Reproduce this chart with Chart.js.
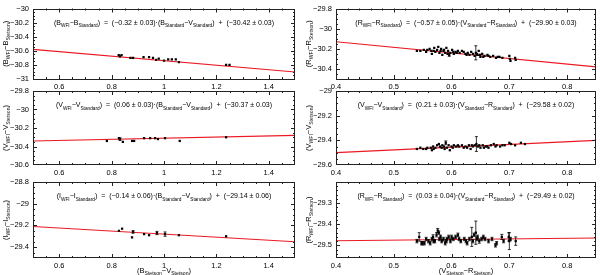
<!DOCTYPE html>
<html>
<head>
<meta charset="utf-8">
<script src="https://cdn.jsdelivr.net/npm/chart.js@4"></script>
<style>
  html, body { margin: 0; padding: 0; background: #fff; }
  #wrap { position: relative; width: 600px; height: 275px; }
  #wrap canvas { position: absolute; left: 0; top: 0; }
</style>
</head>
<body>
<div id="wrap"></div>
<script>
// --- left column : x = (B-V) Stetson ---
const leftXTicks = [0.6, 0.8, 1, 1.2, 1.4];
const fitXLeft = [0.5, 1.5];

const bX   = [0.827, 0.832, 0.838, 0.872, 0.882, 0.922, 0.943, 0.958, 0.97, 0.98, 1.0, 1.016, 1.03, 1.045, 1.057, 1.237, 1.25];
const bY   = [-30.66, -30.68, -30.66, -30.70, -30.70, -30.69, -30.69, -30.70, -30.73, -30.71, -30.74, -30.72, -30.72, -30.72, -30.76, -30.80, -30.80];
const bErr = [0.01, 0.01, 0.01, 0.008, 0.008, 0.008, 0.008, 0.008, 0.008, 0.008, 0.008, 0.008, 0.008, 0.008, 0.01, 0.008, 0.008];
const bTicks = [-31, -30.8, -30.6, -30.4, -30.2, -30];
const bFitY = [-30.58, -30.90];

const vLX   = [0.782, 0.828, 0.832, 0.843, 0.878, 0.886, 0.924, 0.947, 0.966, 0.977, 1.004, 1.06, 1.237];
const vLY   = [-30.34, -30.31, -30.32, -30.35, -30.34, -30.34, -30.31, -30.31, -30.31, -30.32, -30.31, -30.34, -30.30];
const vLErr = [0.01, 0.01, 0.015, 0.01, 0.008, 0.008, 0.008, 0.008, 0.008, 0.008, 0.01, 0.008, 0.008];
const vLTicks = [-30.6, -30.4, -30.2, -30, -29.8];
const vLFitY = [-30.34, -30.28];

const iX   = [0.828, 0.84, 0.878, 0.882, 0.924, 0.943, 0.973, 1.004, 1.057, 1.237];
const iY   = [-29.25, -29.23, -29.31, -29.26, -29.28, -29.29, -29.27, -29.28, -29.29, -29.30];
const iErr = [0.01, 0.01, 0.01, 0.012, 0.008, 0.008, 0.015, 0.02, 0.01, 0.01];
const iTicks = [-29.4, -29.2, -29, -28.8];
const iFitY = [-29.21, -29.35];

// --- right column : x = (V-R) Stetson ---
const rightXTicks = [0.4, 0.5, 0.6, 0.7, 0.8];
const fitXRight = [0.4, 0.85];

const rTX   = [0.540, 0.546, 0.552, 0.556, 0.562, 0.565, 0.566, 0.570, 0.572, 0.575, 0.577, 0.579, 0.582, 0.584, 0.586, 0.589, 0.591, 0.594, 0.596, 0.598, 0.601, 0.604, 0.607, 0.611, 0.614, 0.618, 0.624, 0.628, 0.631, 0.634, 0.637, 0.640, 0.642, 0.645, 0.647, 0.650, 0.653, 0.657, 0.662, 0.667, 0.672, 0.677, 0.683, 0.688, 0.700, 0.701, 0.702, 0.710, 0.711,
               0.558, 0.569, 0.581, 0.587, 0.593, 0.603, 0.609, 0.621, 0.626, 0.644, 0.649, 0.655, 0.664, 0.680];
const rTY   = [-30.22, -30.22, -30.21, -30.23, -30.20, -30.22, -30.25, -30.19, -30.23, -30.21, -30.18, -30.24, -30.20, -30.26, -30.22, -30.24, -30.19, -30.22, -30.26, -30.24, -30.21, -30.25, -30.23, -30.22, -30.24, -30.22, -30.25, -30.24, -30.26, -30.23, -30.25, -30.27, -30.24, -30.26, -30.22, -30.28, -30.25, -30.27, -30.26, -30.28, -30.27, -30.29, -30.28, -30.29, -30.27, -30.30, -30.32, -30.29, -30.31,
               -30.21, -30.22, -30.22, -30.21, -30.25, -30.23, -30.24, -30.23, -30.26, -30.25, -30.26, -30.28, -30.27, -30.28];
const rTErr = [0.008, 0.008, 0.008, 0.008, 0.008, 0.008, 0.01, 0.008, 0.008, 0.008, 0.01, 0.008, 0.008, 0.01, 0.008, 0.008, 0.008, 0.008, 0.015, 0.008, 0.008, 0.008, 0.008, 0.008, 0.008, 0.008, 0.008, 0.008, 0.008, 0.008, 0.008, 0.008, 0.07, 0.008, 0.008, 0.008, 0.008, 0.008, 0.008, 0.008, 0.008, 0.008, 0.008, 0.008, 0.01, 0.008, 0.008, 0.01, 0.008,
               0.008, 0.008, 0.008, 0.008, 0.008, 0.008, 0.008, 0.008, 0.008, 0.008, 0.008, 0.008, 0.008, 0.008];
const rTTicks = [-30.4, -30.2, -30, -29.8];
const rTFitY = [-30.13, -30.38];

const vRX   = [0.540, 0.546, 0.551, 0.556, 0.564, 0.566, 0.568, 0.572, 0.575, 0.578, 0.580, 0.584, 0.588, 0.590, 0.592, 0.595, 0.597, 0.600, 0.604, 0.608, 0.613, 0.618, 0.624, 0.627, 0.630, 0.633, 0.637, 0.640, 0.643, 0.646, 0.650, 0.654, 0.659, 0.664, 0.668, 0.673, 0.678, 0.684, 0.688, 0.700, 0.703, 0.710, 0.720, 0.727,
               0.558, 0.569, 0.583, 0.587, 0.602, 0.611, 0.621, 0.635, 0.648, 0.656, 0.662, 0.676, 0.692];
const vRY   = [-29.47, -29.46, -29.47, -29.47, -29.46, -29.48, -29.45, -29.46, -29.44, -29.43, -29.45, -29.44, -29.47, -29.42, -29.46, -29.44, -29.48, -29.45, -29.44, -29.45, -29.45, -29.44, -29.45, -29.46, -29.44, -29.47, -29.45, -29.44, -29.43, -29.45, -29.46, -29.44, -29.45, -29.46, -29.44, -29.43, -29.44, -29.45, -29.44, -29.42, -29.43, -29.44, -29.42, -29.43,
               -29.46, -29.47, -29.46, -29.45, -29.46, -29.44, -29.46, -29.44, -29.44, -29.46, -29.45, -29.45, -29.44];
const vRErr = [0.008, 0.008, 0.008, 0.008, 0.008, 0.008, 0.008, 0.008, 0.008, 0.01, 0.008, 0.008, 0.008, 0.015, 0.008, 0.008, 0.008, 0.008, 0.008, 0.008, 0.008, 0.008, 0.008, 0.008, 0.008, 0.008, 0.008, 0.008, 0.06, 0.008, 0.008, 0.008, 0.008, 0.008, 0.008, 0.008, 0.008, 0.008, 0.008, 0.01, 0.008, 0.008, 0.008, 0.008,
               0.008, 0.008, 0.008, 0.008, 0.008, 0.008, 0.008, 0.008, 0.008, 0.008, 0.008, 0.008, 0.008];
const vRTicks = [-29.6, -29.4, -29.2, -29];
const vRFitY = [-29.50, -29.40];

const rBX   = [0.540, 0.544, 0.548, 0.553, 0.556, 0.563, 0.566, 0.568, 0.571, 0.574, 0.576, 0.578, 0.581, 0.583, 0.586, 0.589, 0.592, 0.595, 0.598, 0.603, 0.607, 0.611, 0.616, 0.622, 0.627, 0.631, 0.635, 0.639, 0.642, 0.645, 0.648, 0.652, 0.658, 0.664, 0.670, 0.678, 0.687, 0.699, 0.700, 0.702, 0.711,
               0.550, 0.560, 0.569, 0.579, 0.591, 0.600, 0.613, 0.625, 0.637, 0.644, 0.655, 0.676, 0.690];
const rBY   = [-29.48, -29.46, -29.49, -29.49, -29.47, -29.49, -29.47, -29.46, -29.48, -29.45, -29.43, -29.44, -29.46, -29.48, -29.47, -29.49, -29.47, -29.46, -29.48, -29.47, -29.46, -29.45, -29.48, -29.47, -29.49, -29.47, -29.46, -29.45, -29.44, -29.46, -29.48, -29.47, -29.47, -29.48, -29.47, -29.49, -29.46, -29.46, -29.48, -29.47, -29.48,
               -29.49, -29.48, -29.48, -29.47, -29.48, -29.46, -29.47, -29.48, -29.48, -29.47, -29.46, -29.50, -29.48];
const rBErr = [0.008, 0.02, 0.008, 0.008, 0.008, 0.008, 0.008, 0.01, 0.008, 0.01, 0.01, 0.008, 0.008, 0.008, 0.008, 0.008, 0.008, 0.008, 0.008, 0.008, 0.008, 0.008, 0.008, 0.008, 0.008, 0.008, 0.045, 0.008, 0.055, 0.008, 0.01, 0.008, 0.008, 0.008, 0.008, 0.008, 0.012, 0.02, 0.04, 0.008, 0.02,
               0.008, 0.008, 0.008, 0.008, 0.008, 0.008, 0.008, 0.008, 0.008, 0.008, 0.008, 0.008, 0.008];
const rBTicks = [-29.5, -29.4, -29.3];
const rBFitY = [-29.478, -29.465];

// panel boxes on the 600x275 page
const panels = [
  { area: [33, 5, 295, 79],    x: bX,  y: bY,  err: bErr,  xr: [0.5, 1.5],  yr: [-31, -30],      xt: leftXTicks,  yt: bTicks,  xMaj: 0.2, xMin: 0.05, yMaj: 0.2, yMin: 0.05, fx: fitXLeft,  fy: bFitY,
    eq: '(B_{WFI}\u2212B_{Standard})  =  (\u22120.32 \u00b1 0.03)\u00b7(B_{Standard}\u2212V_{Standard})  +  (\u221230.42 \u00b1 0.03)', yl: '(B_{WFI}\u2212B_{Stetson})' },
  { area: [336, 5, 598, 79],   x: rTX, y: rTY, err: rTErr, xr: [0.4, 0.85], yr: [-30.5, -29.8],  xt: rightXTicks, yt: rTTicks, xMaj: 0.1, xMin: 0.02, yMaj: 0.2, yMin: 0.05, fx: fitXRight, fy: rTFitY,
    eq: '(R_{WFI}\u2212R_{Standard})  =  (\u22120.57 \u00b1 0.05)\u00b7(V_{Standard}\u2212R_{Standard})  +  (\u221229.90 \u00b1 0.03)', yl: '(R_{WFI}\u2212R_{Stetson})' },
  { area: [33, 91, 295, 165],  x: vLX, y: vLY, err: vLErr, xr: [0.5, 1.5],  yr: [-30.6, -29.8],  xt: leftXTicks,  yt: vLTicks, xMaj: 0.2, xMin: 0.05, yMaj: 0.2, yMin: 0.05, fx: fitXLeft,  fy: vLFitY,
    eq: '(V_{WFI}\u2212V_{Standard})  =  (0.06 \u00b1 0.03)\u00b7(B_{Standard}\u2212V_{Standard})  +  (\u221230.37 \u00b1 0.03)', yl: '(V_{WFI}\u2212V_{Stetson})' },
  { area: [336, 91, 598, 165], x: vRX, y: vRY, err: vRErr, xr: [0.4, 0.85], yr: [-29.6, -29],    xt: rightXTicks, yt: vRTicks, xMaj: 0.1, xMin: 0.02, yMaj: 0.2, yMin: 0.05, fx: fitXRight, fy: vRFitY,
    eq: '(V_{WFI}\u2212V_{Standard})  =  (0.21 \u00b1 0.03)\u00b7(V_{Standard}\u2212R_{Standard})  +  (\u221229.58 \u00b1 0.02)', yl: '(V_{WFI}\u2212V_{Stetson})' },
  { area: [33, 182, 295, 258], x: iX,  y: iY,  err: iErr,  xr: [0.5, 1.5],  yr: [-29.5, -28.8],  xt: leftXTicks,  yt: iTicks,  xMaj: 0.2, xMin: 0.05, yMaj: 0.2, yMin: 0.05, fx: fitXLeft,  fy: iFitY,
    eq: '(I_{WFI}\u2212I_{Standard})  =  (\u22120.14 \u00b1 0.06)\u00b7(B_{Standard}\u2212V_{Standard})  +  (\u221229.14 \u00b1 0.06)', yl: '(I_{WFI}\u2212I_{Stetson})', xl: '(B_{Stetson}\u2212V_{Stetson})' },
  { area: [336, 182, 598, 258], x: rBX, y: rBY, err: rBErr, xr: [0.4, 0.85], yr: [-29.56, -29.2], xt: rightXTicks, yt: rBTicks, xMaj: 0.1, xMin: 0.02, yMaj: 0.1, yMin: 0.02, fx: fitXRight, fy: rBFitY,
    eq: '(R_{WFI}\u2212R_{Standard})  =  (0.03 \u00b1 0.04)\u00b7(V_{Standard}\u2212R_{Standard})  +  (\u221229.49 \u00b1 0.02)', yl: '(R_{WFI}\u2212R_{Stetson})', xl: '(V_{Stetson}\u2212R_{Stetson})' }
];

const FONT = '"Liberation Sans", Arial, sans-serif';
const YW = 33, XH = 12;

// text with _{sub} parts, centred on (x, y)
function drawRich(ctx, s, x, y, size, rot) {
  const parts = [];
  const re = /_\{([^}]*)\}/g;
  let last = 0, m;
  while ((m = re.exec(s))) {
    if (m.index > last) parts.push({ t: s.slice(last, m.index), sub: false });
    parts.push({ t: m[1], sub: true });
    last = re.lastIndex;
  }
  if (last < s.length) parts.push({ t: s.slice(last), sub: false });
  const fN = size + 'px ' + FONT, fS = (size * 0.68) + 'px ' + FONT;
  let w = 0;
  parts.forEach(p => { ctx.font = p.sub ? fS : fN; p.w = ctx.measureText(p.t).width; w += p.w; });
  ctx.save();
  ctx.translate(x, y);
  if (rot) ctx.rotate(rot);
  ctx.fillStyle = '#000';
  ctx.textBaseline = 'alphabetic';
  ctx.textAlign = 'left';
  let cx = -w / 2;
  parts.forEach(p => {
    ctx.font = p.sub ? fS : fN;
    ctx.fillText(p.t, cx, size * 0.35 + (p.sub ? size * 0.3 : 0));
    cx += p.w;
  });
  ctx.restore();
}

const fmt = v => String(+v.toFixed(2)).replace('-', '\u2212');

function isMajor(v, step) { const r = v / step; return Math.abs(r - Math.round(r)) < 1e-6; }

const framePlugin = p => ({
  id: 'frame',
  afterDatasetsDraw(chart) {
    const { ctx, scales: { x, y } } = chart;
    ctx.save();
    ctx.strokeStyle = '#000';
    ctx.lineWidth = 0.8;
    p.err.forEach((e, i) => {
      const px = x.getPixelForValue(p.x[i]);
      const y1 = y.getPixelForValue(p.y[i] - e), y2 = y.getPixelForValue(p.y[i] + e);
      if (Math.abs(y1 - y2) < 2.5) return;
      ctx.beginPath();
      ctx.moveTo(px, y1); ctx.lineTo(px, y2);
      ctx.moveTo(px - 1.5, y1); ctx.lineTo(px + 1.5, y1);
      ctx.moveTo(px - 1.5, y2); ctx.lineTo(px + 1.5, y2);
      ctx.stroke();
    });
    ctx.restore();
  },
  afterDraw(chart) {
    const { ctx, chartArea: a, scales: { x, y } } = chart;
    ctx.save();
    ctx.strokeStyle = '#222';
    ctx.lineWidth = 1;
    ctx.strokeRect(Math.round(a.left) + 0.5, Math.round(a.top) + 0.5, Math.round(a.right - a.left) - 1, Math.round(a.bottom - a.top) - 1);
    ctx.beginPath();
    let n = Math.round((p.xr[1] - p.xr[0]) / p.xMin);
    for (let i = 1; i < n; i++) {
      const v = p.xr[0] + i * p.xMin;
      const px = Math.round(x.getPixelForValue(v)) + 0.5;
      const len = isMajor(v, p.xMaj) ? 4 : 2;
      ctx.moveTo(px, a.bottom); ctx.lineTo(px, a.bottom - len);
      ctx.moveTo(px, a.top); ctx.lineTo(px, a.top + len);
    }
    n = Math.round((p.yr[1] - p.yr[0]) / p.yMin);
    for (let i = 1; i < n; i++) {
      const v = p.yr[0] + i * p.yMin;
      const py = Math.round(y.getPixelForValue(v)) + 0.5;
      const len = isMajor(v, p.yMaj) ? 4 : 2;
      ctx.moveTo(a.left, py); ctx.lineTo(a.left + len, py);
      ctx.moveTo(a.right, py); ctx.lineTo(a.right - len, py);
    }
    ctx.stroke();
    ctx.restore();
    const cxm = (a.left + a.right) / 2;
    drawRich(ctx, p.eq, cxm, a.top + 14, 7);
    drawRich(ctx, p.yl, a.left - 28, (a.top + a.bottom) / 2, 7.5, -Math.PI / 2);
    if (p.xl) drawRich(ctx, p.xl, cxm, a.bottom + 12, 7.5);
  }
});

const wrap = document.getElementById('wrap');
panels.forEach(p => {
  const cv = document.createElement('canvas');
  cv.width = 600; cv.height = 275;
  wrap.appendChild(cv);
  new Chart(cv, {
    type: 'scatter',
    data: {
      datasets: [
        {
          data: p.x.map((v, i) => ({ x: v, y: p.y[i] })),
          pointStyle: 'rect', pointRadius: 1.6, borderWidth: 0,
          backgroundColor: '#000', borderColor: '#000', order: 1
        },
        {
          type: 'line',
          data: p.fx.map((v, i) => ({ x: v, y: p.fy[i] })),
          borderColor: 'rgb(235,25,35)', borderWidth: 1.1, pointRadius: 0, order: 2
        }
      ]
    },
    options: {
      responsive: false,
      animation: false,
      events: [],
      layout: { padding: { left: p.area[0] - YW, top: p.area[1], right: 600 - p.area[2], bottom: 275 - p.area[3] - XH } },
      plugins: { legend: { display: false }, tooltip: { enabled: false } },
      scales: {
        x: {
          type: 'linear', min: p.xr[0], max: p.xr[1],
          afterBuildTicks: s => { s.ticks = p.xt.map(v => ({ value: v })); },
          afterFit: s => { s.height = XH; },
          grid: { display: false, drawTicks: false }, border: { display: false },
          ticks: { font: { family: FONT, size: 7.5 }, color: '#000', padding: 3, maxRotation: 0, autoSkip: false, callback: fmt }
        },
        y: {
          type: 'linear', min: p.yr[0], max: p.yr[1],
          afterBuildTicks: s => { s.ticks = p.yt.map(v => ({ value: v })); },
          afterFit: s => { s.width = YW; },
          grid: { display: false, drawTicks: false }, border: { display: false },
          ticks: { font: { family: FONT, size: 7.5 }, color: '#000', padding: 4, autoSkip: false, callback: fmt }
        }
      }
    },
    plugins: [framePlugin(p)]
  });
});
</script>
</body>
</html>
